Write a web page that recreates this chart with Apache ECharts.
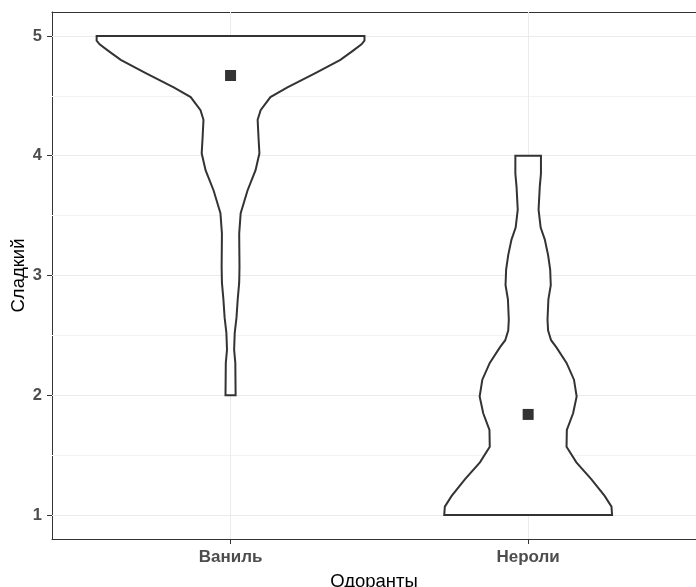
<!DOCTYPE html>
<html>
<head>
<meta charset="utf-8">
<script src="https://cdn.jsdelivr.net/npm/echarts@6/dist/echarts.min.js"></script>
<style>
  html, body { margin: 0; padding: 0; background: #fff; }
  #chart_violin { width: 696px; height: 587px; }
</style>
</head>
<body>
<div id="chart_violin"></div>
<script>
// categories and tick values
const categories = ["Ваниль", "Нероли"];
const yTicks = [1, 2, 3, 4, 5];
const yMinorTicks = [1.5, 2.5, 3.5, 4.5];

// violin outlines: rating value and half width (in category units), top to bottom
const vanillaY = [5.00, 4.96, 4.93, 4.88, 4.80, 4.69, 4.57, 4.49, 4.38, 4.30, 4.15, 4.02, 3.88, 3.71, 3.52, 3.35, 3.07, 2.94, 2.80, 2.65, 2.52, 2.38, 2.27, 2.00];
const vanillaHalfWidth = [0.450, 0.450, 0.440, 0.413, 0.369, 0.285, 0.191, 0.134, 0.101, 0.091, 0.094, 0.097, 0.084, 0.057, 0.034, 0.029, 0.030, 0.029, 0.024, 0.020, 0.014, 0.012, 0.016, 0.017];

const neroliY = [4.00, 3.85, 3.74, 3.55, 3.40, 3.30, 3.17, 3.05, 2.92, 2.80, 2.63, 2.54, 2.46, 2.40, 2.27, 2.13, 1.99, 1.85, 1.71, 1.57, 1.44, 1.30, 1.16, 1.07, 1.00];
const neroliHalfWidth = [0.043, 0.043, 0.039, 0.035, 0.042, 0.056, 0.067, 0.074, 0.076, 0.068, 0.065, 0.067, 0.077, 0.095, 0.129, 0.154, 0.163, 0.151, 0.130, 0.129, 0.162, 0.212, 0.257, 0.280, 0.282];

// mean markers
const meanValues = [4.67, 1.84];

const violins = [
  { y: vanillaY, w: vanillaHalfWidth },
  { y: neroliY, w: neroliHalfWidth },
];

const chart = echarts.init(document.getElementById("chart_violin"));

const renderViolin = function (params, api) {
  const k = params.dataIndex;
  const v = violins[k];
  const cx = api.value(0);
  const pts = [];
  for (let i = 0; i < v.y.length; i++) {
    pts.push(api.coord([cx + v.w[i], v.y[i]]));
  }
  for (let i = v.y.length - 1; i >= 0; i--) {
    pts.push(api.coord([cx - v.w[i], v.y[i]]));
  }
  return {
    type: "polygon",
    shape: { points: pts },
    style: { fill: "#ffffff", stroke: "#333333", lineWidth: 2 },
  };
};

const gridLines = [];
yTicks.forEach((t) => gridLines.push({ yAxis: t, lineStyle: { color: "#ebebeb", width: 1 } }));
yMinorTicks.forEach((t) => gridLines.push({ yAxis: t, lineStyle: { color: "#f3f3f3", width: 1 } }));
categories.forEach((c, i) => gridLines.push({ xAxis: i + 1, lineStyle: { color: "#ebebeb", width: 1 } }));

const fontFamily = "'Liberation Sans', Arial, sans-serif";

let option = {
  backgroundColor: "#ffffff",
  animation: false,
  grid: {
    left: 52,
    top: 12,
    right: 0,
    bottom: 48,
    outerBoundsMode: "none",
    containLabel: false,
  },
  xAxis: [
    {
      type: "value",
      min: 0.4,
      max: 2.564,
      name: "Одоранты",
      nameLocation: "middle",
      nameGap: 33,
      nameMoveOverlap: false,
      nameTextStyle: { color: "#000", fontSize: 18.5, fontFamily: fontFamily },
      axisLine: { show: true, lineStyle: { color: "#333333", width: 1 } },
      axisTick: { show: true, length: 5, customValues: [1, 2], lineStyle: { color: "#333333" } },
      axisLabel: {
        customValues: [1, 2],
        formatter: (val) => categories[Math.round(val) - 1],
        color: "#4d4d4d",
        fontWeight: "bold",
        fontSize: 17,
        fontFamily: fontFamily,
        margin: 10,
      },
      splitLine: { show: false },
    },
    {
      // top panel border
      type: "value",
      position: "top",
      min: 0.4,
      max: 2.564,
      axisLine: { show: true, onZero: false, lineStyle: { color: "#333333", width: 1 } },
      axisTick: { show: false },
      axisLabel: { show: false },
      splitLine: { show: false },
    },
  ],
  yAxis: {
    type: "value",
    min: 0.8,
    max: 5.2,
    name: "Сладкий",
    nameLocation: "middle",
    nameGap: 24,
    nameMoveOverlap: false,
    nameTextStyle: { color: "#000", fontSize: 18.5, fontFamily: fontFamily },
    axisLine: { show: true, onZero: false, lineStyle: { color: "#333333", width: 1 } },
    axisTick: { show: true, length: 5, customValues: yTicks, lineStyle: { color: "#333333" } },
    axisLabel: {
      customValues: yTicks,
      color: "#4d4d4d",
      fontWeight: "bold",
      fontSize: 16.5,
      fontFamily: fontFamily,
      margin: 10,
    },
    splitLine: { show: false },
  },
  series: [
    {
      type: "line",
      data: [],
      z: 1,
      silent: true,
      markLine: {
        silent: true,
        z: 1,
        symbol: ["none", "none"],
        label: { show: false },
        lineStyle: { type: "solid" },
        data: gridLines,
      },
    },
    {
      type: "custom",
      z: 5,
      renderItem: renderViolin,
      data: categories.map((c, i) => [i + 1]),
    },
    {
      type: "scatter",
      z: 6,
      symbol: "rect",
      symbolSize: 11,
      itemStyle: { color: "#000000" },
      data: meanValues.map((m, i) => [i + 1, m]),
    },
  ],
};
chart.setOption(option);
</script>
</body>
</html>
